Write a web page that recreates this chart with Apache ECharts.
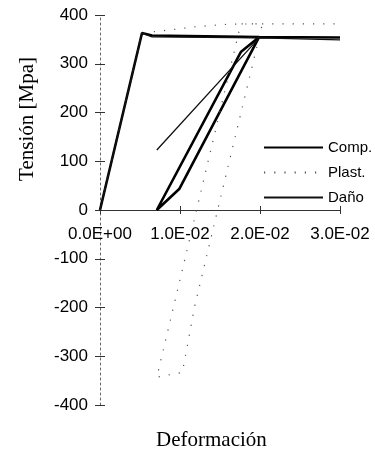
<!DOCTYPE html>
<html>
<head>
<meta charset="utf-8">
<script src="https://cdn.jsdelivr.net/npm/echarts@6/dist/echarts.min.js"></script>
<style>
  html, body { margin: 0; padding: 0; background: #fff; }
  #chart { width: 375px; height: 453px; }
</style>
</head>
<body>
<div id="chart"></div>
<script>
var myChart = echarts.init(document.getElementById('chart'));

// [deformacion, tension]
var dataComp = [
  [0, 0], [0.00525, 363], [0.0065, 358], [0.0199, 355],
  [0.0176, 324], [0.0071, 0], [0.0099, 43], [0.0199, 355],
  [0.03, 354]
];
var dataPlast = [
  [0, 0], [0.00525, 363], [0.008, 368], [0.012, 376], [0.016, 381],
  [0.0203, 382], [0.0147, 0], [0.0118, -200], [0.0103, -333],
  [0.0071, -343], [0.0176, 382], [0.03, 382]
];
var dataDano = [
  [0, 0], [0.00525, 363], [0.0065, 355], [0.0199, 353],
  [0.0071, 123], [0.0199, 353], [0.03, 349]
];
var seriesNames = ['Comp.', 'Plast.', 'Daño'];
var xTickLabels = ['0.0E+00', '1.0E-02', '2.0E-02', '3.0E-02'];

var labelFont = 'Liberation Sans, Arial, sans-serif';
var titleFont = 'Liberation Serif, Times New Roman, serif';

// grid is 390px tall for -400..400, so y = 0 sits 195px above the bottom
var zeroOffset = -195;

var option = {
  animation: false,
  grid: { left: 100, right: 35, top: 15, bottom: 48 },
  legend: {
    orient: 'vertical',
    left: 258,
    top: 134,
    itemWidth: 59,
    itemHeight: 10,
    itemGap: 8,
    itemStyle: { color: 'rgba(0,0,0,0)', borderWidth: 0, opacity: 0 },
    textStyle: { fontSize: 15, lineHeight: 17, color: '#000', fontFamily: labelFont },
    data: seriesNames
  },
  xAxis: [
    {
      type: 'value', min: 0, max: 0.03, interval: 0.01, position: 'bottom',
      offset: zeroOffset,
      axisLine: { onZero: false, lineStyle: { color: '#333', width: 1 } },
      axisTick: { show: true, length: 4, lineStyle: { color: '#333' } },
      axisLabel: {
        fontSize: 17, margin: 16, color: '#000', fontFamily: labelFont,
        formatter: function (v) { return xTickLabels[Math.round(v / 0.01)]; }
      },
      splitLine: { show: false }
    },
    {
      type: 'value', min: 0, max: 0.03, interval: 0.01, position: 'bottom',
      offset: zeroOffset,
      axisLine: { onZero: false, lineStyle: { color: 'rgba(0,0,0,0)' } },
      axisTick: { show: true, inside: true, length: 4, lineStyle: { color: '#333' } },
      axisLabel: { show: false },
      splitLine: { show: false }
    }
  ],
  yAxis: [
    {
      type: 'value', min: -400, max: 400, interval: 100, position: 'left',
      axisLine: { show: true, onZero: false, lineStyle: { color: '#666', width: 1, type: [2, 3] } },
      axisTick: { show: true, length: 5, lineStyle: { color: '#333' } },
      axisLabel: { fontSize: 17, margin: 12, color: '#000', fontFamily: labelFont },
      splitLine: { show: false }
    },
    {
      type: 'value', min: -400, max: 400, interval: 100, position: 'left',
      axisLine: { show: true, onZero: false, lineStyle: { color: 'rgba(0,0,0,0)' } },
      axisTick: { show: true, inside: true, length: 5, lineStyle: { color: '#333' } },
      axisLabel: { show: false },
      splitLine: { show: false }
    }
  ],
  graphic: [
    {
      type: 'text', left: 17, top: 57,
      rotation: Math.PI / 2,
      originX: 0, originY: 0,
      style: { text: 'Tensión [Mpa]', font: '21px ' + titleFont, fill: '#000' }
    },
    {
      type: 'text', left: 156, top: 430,
      style: { text: 'Deformación', font: '21px ' + titleFont, fill: '#000' }
    }
  ],
  series: [
    {
      name: seriesNames[0], type: 'line', showSymbol: false, symbol: 'none',
      lineStyle: { color: '#000', width: 2.6 }, itemStyle: { color: '#000' },
      data: dataComp
    },
    {
      name: seriesNames[1], type: 'line', showSymbol: false, symbol: 'none',
      lineStyle: { color: '#555', width: 1.2, type: [1.2, 9] }, itemStyle: { color: '#555' },
      data: dataPlast
    },
    {
      name: seriesNames[2], type: 'line', showSymbol: false, symbol: 'none',
      lineStyle: { color: '#111', width: 1.3 }, itemStyle: { color: '#111' },
      data: dataDano
    }
  ]
};

myChart.setOption(option);
</script>
</body>
</html>
